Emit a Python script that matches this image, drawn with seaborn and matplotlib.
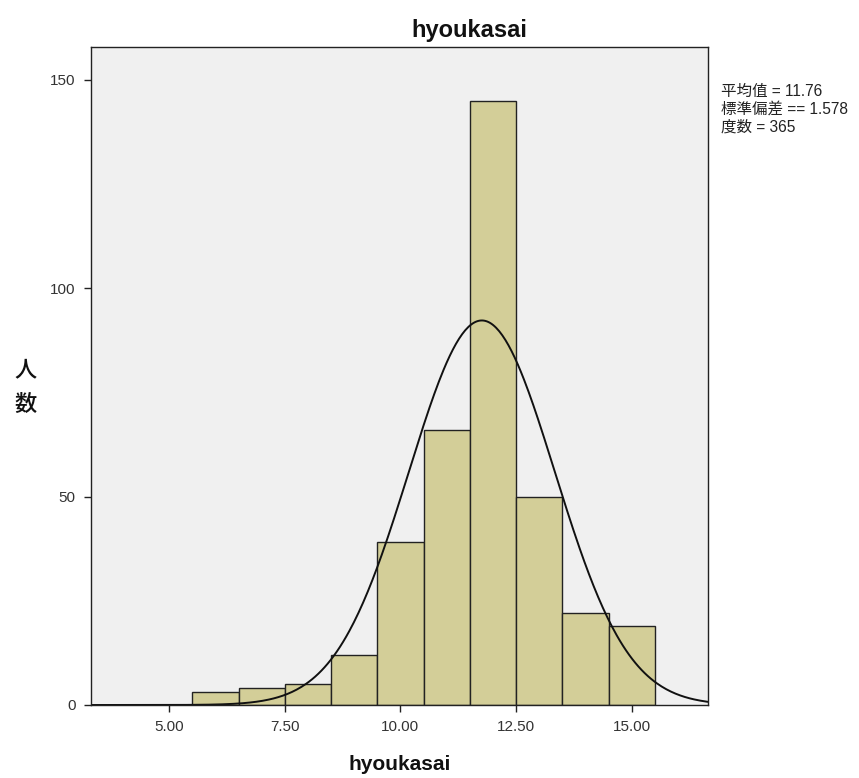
import numpy as np
import pandas as pd
import matplotlib
matplotlib.use("Agg")
import matplotlib.pyplot as plt
import seaborn as sns

bin_edges = [5.5, 6.5, 7.5, 8.5, 9.5, 10.5, 11.5, 12.5, 13.5, 14.5, 15.5]
counts = [3, 4, 5, 12, 39, 66, 145, 50, 22, 19]
mean_val = 11.76
sd_val = 1.578
n_val = 365
x_ticks = [5.0, 7.5, 10.0, 12.5, 15.0]
x_tick_labels = ["5.00", "7.50", "10.00", "12.50", "15.00"]
y_ticks = [0, 50, 100, 150]
stats_lines = ["平均值 = 11.76", "標準偏差 == 1.578", "度数 = 365"]

sns.set_theme(style="white")
plt.rcParams['font.family'] = ['Liberation Sans', 'Noto Sans CJK JP', 'DejaVu Sans']

W, H = 859, 778
fig = plt.figure(figsize=(W / 100, H / 100), dpi=100)
ax = fig.add_axes([91 / W, 1 - 705 / H, (708 - 91) / W, (705 - 47) / H])
ax.set_facecolor("#F0F0F0")

centers = [(bin_edges[i] + bin_edges[i + 1]) / 2 for i in range(len(counts))]
df = pd.DataFrame({"x": centers, "w": counts})
sns.histplot(data=df, x="x", weights="w", bins=bin_edges, ax=ax,
             color="#D3CE98", alpha=1.0, edgecolor="#222222", linewidth=1.0)

xmin, xmax = 3.31, 16.65
xs = np.linspace(xmin, xmax, 400)
ys = n_val * 1.0 / (sd_val * np.sqrt(2 * np.pi)) * np.exp(-0.5 * ((xs - mean_val) / sd_val) ** 2)
sns.lineplot(x=xs, y=ys, ax=ax, color="#111111", linewidth=1.4)

ax.set_xlim(xmin, xmax)
ax.set_ylim(0, 157.9)
ax.set_xticks(x_ticks)
ax.set_xticklabels(x_tick_labels)
ax.set_yticks(y_ticks)
ax.tick_params(axis="both", direction="out", length=5, width=1, colors="#222222",
               labelsize=11, labelcolor="#333333", bottom=True, left=True, pad=6)
for s in ax.spines.values():
    s.set_color("#222222")
    s.set_linewidth(1.0)

ax.set_xlabel("")
ax.set_ylabel("")
fig.text(469 / W, 1 - 30 / H, "hyoukasai", fontsize=17, fontweight="bold",
         ha="center", va="center", color="#111111")
fig.text(400 / W, 1 - 765 / H, "hyoukasai", fontsize=15, fontweight="bold",
         ha="center", va="center", color="#111111")
fig.text(26 / W, 1 - 370 / H, "人", fontsize=16, ha="center", va="center",
         family=['Noto Sans CJK JP', 'DejaVu Sans'], color="#111111", fontweight="medium")
fig.text(26 / W, 1 - 404 / H, "数", fontsize=16, ha="center", va="center",
         family=['Noto Sans CJK JP', 'DejaVu Sans'], color="#111111", fontweight="medium")

for i, line in enumerate(stats_lines):
    fig.text(721 / W, 1 - (91 + 18 * i) / H, line, fontsize=11.2,
             ha="left", va="center", family=['Liberation Sans', 'Noto Sans CJK JP', 'DejaVu Sans'],
             color="#222222")

fig.savefig("out.png", dpi=100)
